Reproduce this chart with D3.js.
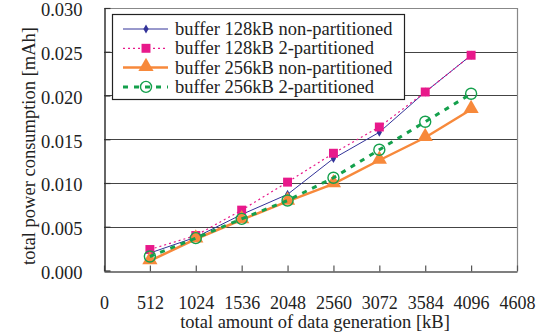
<!DOCTYPE html>
<html>
<head>
<meta charset="utf-8">
<script src="https://cdn.jsdelivr.net/npm/d3@7"></script>
<style>
  body { margin: 0; background: #fff; }
</style>
</head>
<body>
<div id="chart"></div>
<script>
// data
const dataSizes = [512, 1024, 1536, 2048, 2560, 3072, 3584, 4096];
const xTicks = [0, 512, 1024, 1536, 2048, 2560, 3072, 3584, 4096, 4608];
const yTicks = [0, 0.005, 0.010, 0.015, 0.020, 0.025, 0.030];
const seriesNames = [
    'buffer 128kB non-partitioned',
    'buffer 128kB 2-partitioned',
    'buffer 256kB non-partitioned',
    'buffer 256kB 2-partitioned'
];
const buf128NonPart = [0.0020, 0.0038, 0.0064, 0.0087, 0.0128, 0.0158, 0.0204, 0.0246];
const buf128Part2 = [0.0024, 0.0040, 0.0069, 0.0101, 0.0134, 0.0164, 0.0204, 0.0246];
const buf256NonPart = [0.0011, 0.0036, 0.0058, 0.0079, 0.0099, 0.0126, 0.0152, 0.0184];
const buf256Part2 = [0.0016, 0.0037, 0.0059, 0.0080, 0.0106, 0.0138, 0.0170, 0.0202];

const width = 551, height = 335;
const margin = { top: 8, right: 34, bottom: 65, left: 104 };
const font = 'Liberation Serif';
const fontSize = 18.5;

const svg = d3.select('#chart').append('svg')
    .attr('width', width)
    .attr('height', height);

const x = d3.scaleLinear().domain([0, 4608]).range([margin.left, width - margin.right]);
const y = d3.scaleLinear().domain([0, 0.030]).range([height - margin.bottom + 0.5, margin.top]);

// styles per series
const styles = [
    { values: buf128NonPart, color: '#333399', width: 1, dash: null, marker: 'diamond' },
    { values: buf128Part2, color: '#e8198b', width: 1.2, dash: '2,3', marker: 'square' },
    { values: buf256NonPart, color: '#f7893b', width: 2.5, dash: null, marker: 'triangle' },
    { values: buf256Part2, color: '#14a04c', width: 3, dash: '5,6', marker: 'circle' }
];

// grid lines
svg.append('g')
    .selectAll('line')
    .data(yTicks.slice(1))
    .enter().append('line')
    .attr('x1', x(0)).attr('x2', x(4608))
    .attr('y1', d => Math.round(y(d)) + 0.5).attr('y2', d => Math.round(y(d)) + 0.5)
    .style('stroke', d => d === 0.030 ? '#888' : '#444')
    .style('stroke-width', 1.2);

// right border
svg.append('line')
    .attr('x1', x(4608) + 0.5).attr('x2', x(4608) + 0.5)
    .attr('y1', y(0.030)).attr('y2', y(0))
    .style('stroke', '#888').style('stroke-width', 1.2);

// axes
const xAxis = d3.axisBottom(x).tickValues(xTicks).tickSizeInner(-6).tickSizeOuter(0)
    .tickPadding(25).tickFormat(d3.format('d'));
svg.append('g')
    .attr('transform', 'translate(0,' + (Math.round(y(0)) + 0.5) + ')')
    .call(xAxis)
    .attr('font-family', font)
    .attr('font-size', 18)
    .call(g => g.select('.domain').style('stroke', '#555').style('stroke-width', 1.5))
    .call(g => g.selectAll('.tick line').style('stroke', '#555').style('stroke-width', 1.2))
    .call(g => g.selectAll('text').attr('fill', '#222'));

const yAxis = d3.axisLeft(y).tickValues(yTicks).tickSizeInner(-6).tickSizeOuter(0)
    .tickPadding(22).tickFormat(d3.format('.3f'));
svg.append('g')
    .attr('transform', 'translate(' + (x(0) + 0.5) + ',0)')
    .call(yAxis)
    .attr('font-family', font)
    .attr('font-size', fontSize)
    .call(g => g.select('.domain').style('stroke', '#333').style('stroke-width', 1.5))
    .call(g => g.selectAll('.tick line').style('stroke', '#333').style('stroke-width', 1.2))
    .call(g => g.selectAll('text').attr('fill', '#222').attr('dy', '0.43em'));

// axis titles
svg.append('text')
    .attr('x', 315)
    .attr('y', 328)
    .attr('text-anchor', 'middle')
    .attr('font-family', font)
    .attr('font-size', fontSize)
    .attr('fill', '#222')
    .text('total amount of data generation [kB]');

svg.append('text')
    .attr('transform', 'translate(35,146) rotate(-90)')
    .attr('text-anchor', 'middle')
    .attr('font-family', font)
    .attr('font-size', fontSize)
    .attr('fill', '#222')
    .text('total power consumption [mAh]');

// marker drawing helper
function drawMarker(g, type, color, cx, cy) {
    if (type === 'diamond') {
        g.append('path')
            .attr('d', d3.symbol().type(d3.symbolDiamond).size(24)())
            .attr('transform', 'translate(' + cx + ',' + cy + ')')
            .style('fill', color);
    } else if (type === 'square') {
        g.append('path')
            .attr('d', d3.symbol().type(d3.symbolSquare).size(80)())
            .attr('transform', 'translate(' + cx + ',' + cy + ')')
            .style('fill', color);
    } else if (type === 'triangle') {
        g.append('path')
            .attr('d', d3.symbol().type(d3.symbolTriangle).size(100)())
            .attr('transform', 'translate(' + cx + ',' + (cy - 1) + ')')
            .style('fill', color);
    } else {
        g.append('circle')
            .attr('cx', cx).attr('cy', cy).attr('r', 5.5)
            .style('fill', 'none')
            .style('stroke', color)
            .style('stroke-width', 1.4);
    }
}

const line = d3.line()
    .x((d, i) => x(dataSizes[i]))
    .y(d => y(d));

styles.forEach(function(s) {
    const g = svg.append('g');
    g.append('path')
        .datum(s.values)
        .attr('d', line)
        .style('fill', 'none')
        .style('stroke', s.color)
        .style('stroke-width', s.width)
        .style('stroke-dasharray', s.dash);
    s.values.forEach(function(v, i) {
        drawMarker(g, s.marker, s.color, x(dataSizes[i]), y(v));
    });
});

// legend
const legend = svg.append('g');
legend.append('rect')
    .attr('x', 112.5).attr('y', 14.5)
    .attr('width', 292).attr('height', 85)
    .style('fill', '#fff')
    .style('stroke', '#222')
    .style('stroke-width', 1.2);

styles.forEach(function(s, i) {
    const ly = 29 + i * 19.3;
    legend.append('line')
        .attr('x1', 123).attr('x2', 168)
        .attr('y1', ly).attr('y2', ly)
        .style('stroke', s.color)
        .style('stroke-width', s.width)
        .style('stroke-dasharray', s.dash);
    drawMarker(legend, s.marker, s.color, 146, ly);
    legend.append('text')
        .attr('x', 175)
        .attr('y', ly + 6)
        .attr('font-family', font)
        .attr('font-size', fontSize)
        .attr('fill', '#222')
        .text(seriesNames[i]);
});
</script>
</body>
</html>
